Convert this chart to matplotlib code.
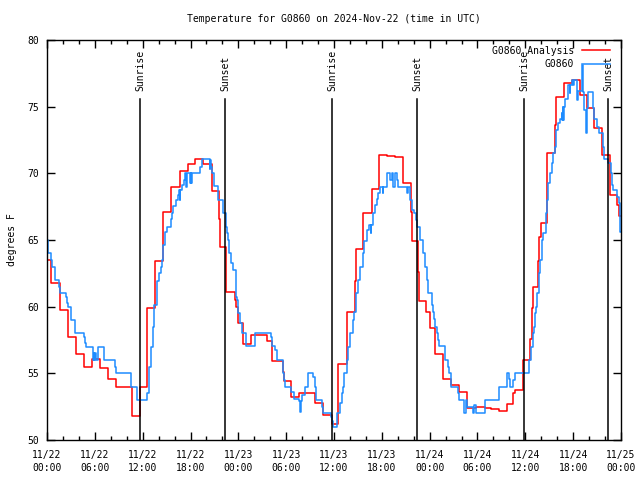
import numpy as np
import matplotlib
matplotlib.use("Agg")
import matplotlib.pyplot as plt

# hours after 2024-11-22 00:00 UTC, step changes
red_hours = [0, 0.55, 1.6, 2.63, 3.65, 4.6, 5.6, 6.6, 7.6, 8.6, 10.6, 11.65,
             12.5, 12.6, 13.55, 13.6, 14.6, 15.6, 16.65, 17.65, 18.6, 19.6,
             20.65, 21.6, 21.65, 22.45, 23.6, 23.75, 24.0, 24.6, 25.6, 27.65,
             28.2, 29.55, 29.7, 30.6, 31.6, 33.65, 34.65, 35.7,
             36.45, 36.55, 37.6, 37.68, 38.65, 38.72, 39.7, 40.73, 41.7, 42.7,
             43.65, 44.6, 44.7, 45.66, 45.74, 46.5, 46.7, 47.6, 48.0, 48.7,
             49.7, 50.7, 51.65, 52.65, 53.8, 55.0, 55.7, 56.7, 57.7, 58.5,
             58.75, 59.65, 60.6, 60.8, 61.0, 61.65, 61.75, 61.95, 62.7, 63.7,
             63.85, 64.8, 64.85, 65.8, 66.8, 67.7, 68.6, 69.65, 70.6, 71.45,
             71.7]
red_temps = [63.5, 61.75, 59.75, 57.7, 56.45, 55.5, 56.1, 55.4, 54.6, 54.0, 51.8, 53.95,
             56.75, 59.9, 61.6, 63.4, 67.1, 69.0, 70.15, 70.7, 71.1, 70.7,
             68.7, 66.6, 64.45, 61.1, 60.5, 60.0, 58.8, 57.2, 57.9, 57.4,
             55.9, 55.1, 54.4, 53.2, 53.5, 52.75, 51.9, 51.2,
             52.0, 55.7, 57.6, 59.6, 61.9, 64.3, 67.05, 68.8, 71.4, 71.3,
             71.2, 70.25, 69.3, 67.1, 64.95, 62.6, 60.4, 59.6, 58.4, 56.45,
             54.55, 54.1, 53.6, 52.4, 52.5, 52.4, 52.35, 52.2, 52.7, 53.5,
             53.75, 56.0, 57.6, 59.9, 61.45, 63.4, 65.2, 66.25, 71.55, 73.6,
             75.7, 76.1, 76.75, 77.0, 75.9, 74.9, 73.4, 71.4, 68.4, 67.6,
             66.8]

blue_hours = [0, 0.13, 0.54, 0.67, 0.96, 1.5, 1.63, 2.34, 2.47, 2.6, 2.97, 3.47,
              3.51, 4.64, 4.72, 4.85, 5.81, 5.9, 5.95, 6.0, 6.1, 6.4, 7.15, 8.57,
              8.7, 10.5, 10.58, 11.33, 12.6, 12.8, 13.05, 13.25, 13.45, 13.75,
              14.0, 14.3, 14.45, 14.6, 14.8, 15.0, 15.5, 15.65, 15.85, 16.2,
              16.45, 16.6, 16.65, 16.7, 16.9, 17.2, 17.3, 17.45, 17.5, 17.95,
              18.0, 18.1, 18.15, 19.2, 19.4, 20.4, 20.5, 20.55, 20.65, 20.95,
              21.5, 22.05, 22.45, 22.55, 22.75, 22.85, 23.05, 23.3, 23.7, 23.8,
              24.0, 24.2, 24.4, 24.95, 26.1, 28.1, 28.2, 28.65, 28.8, 29.55,
              29.75, 29.9, 30.6, 31.0, 31.55, 31.7, 31.8, 31.95, 32.3, 32.7,
              33.4, 33.65, 33.75, 34.5, 34.65, 35.6, 35.75, 35.9, 36.4, 36.75,
              36.95, 37.15, 37.25, 37.6, 37.8, 38.0, 38.35, 38.5, 38.75, 39.05,
              39.25, 39.6, 39.75, 40.2, 40.45, 40.6, 40.7, 40.95, 41.15, 41.35,
              41.55, 41.75, 42.1, 42.2, 42.6, 43.0, 43.25, 43.45, 43.65, 43.85,
              44.05, 45.2, 45.3, 45.55, 45.75, 46.05, 46.3, 46.45, 46.8, 47.15,
              47.4, 47.65, 47.85, 48.3, 48.45, 48.6, 48.7, 48.9, 49.1, 49.2,
              49.95, 50.25, 50.45, 50.7, 51.5, 51.65, 52.35, 52.5, 52.65, 53.4,
              53.6, 53.8, 55.0, 56.65, 57.65, 57.9, 58.1, 58.5, 58.75, 60.4,
              60.65, 60.9, 61.1, 61.2, 61.35, 61.5, 61.75, 61.9, 62.05, 62.25,
              62.6, 62.75, 62.9, 63.1, 63.3, 63.5, 63.7, 63.9, 64.15, 64.3,
              64.55, 64.65, 64.7, 64.75, 64.8, 65.0, 65.4, 65.55, 65.6, 65.8,
              66.0, 66.1, 66.45, 66.5, 66.65, 67.05, 67.2, 67.35, 67.55, 67.7,
              67.9, 68.45, 68.6, 68.95, 69.3, 69.7, 69.85, 70.4, 70.7, 70.85,
              71.05, 71.45, 71.75, 71.9]
blue_temps = [65.0, 64.0, 63.5, 63.0, 62.0, 61.5, 61.0, 60.75, 60.3, 60.0, 59.0, 58.5,
              58.0, 57.75, 57.3, 57.0, 56.0, 56.5, 56.0, 56.5, 56.0, 57.0, 56.0, 55.5,
              55.0, 54.5, 54.0, 53.0, 53.5, 55.5, 57.0, 58.5, 60.1, 61.95,
              62.5, 63.0, 63.5, 64.6, 65.6, 66.0, 66.55, 67.05, 67.55, 68.0,
              68.4, 68.75, 68.0, 68.75, 69.1, 69.5, 70.05, 69.0, 70.05, 69.3,
              70.05, 69.3, 70.05, 70.5, 71.05, 70.3, 71.0, 70.5, 70.0, 69.05,
              68.0, 67.0, 66.0, 65.5, 65.0, 64.0, 63.25, 62.75, 60.75, 60.5,
              59.5, 58.75, 58.0, 57.05, 58.0, 57.7, 57.05, 56.75, 56.0, 55.0,
              54.5, 53.95, 53.6, 53.1, 52.95, 52.1, 52.95, 53.4, 54.0, 55.0,
              54.75, 54.0, 53.0, 52.5, 52.0, 51.75, 51.4, 51.0, 52.0, 52.75,
              53.5, 54.0, 55.0, 56.0, 57.0, 58.0, 59.0, 59.6, 61.0, 62.0,
              63.0, 64.0, 64.9, 65.75, 66.1, 65.5, 66.1, 67.0, 67.6, 68.05,
              68.5, 69.0, 68.5, 69.0, 70.0, 69.5, 70.0, 69.0, 70.0, 69.5,
              69.0, 68.5, 69.0, 68.0, 67.25, 67.0, 66.5, 65.95, 65.0, 64.0,
              63.0, 62.0, 61.0, 60.1, 59.6, 59.1, 58.5, 58.0, 57.5, 57.05,
              56.0, 55.45, 55.0, 54.0, 53.5, 53.0, 52.0, 53.0, 52.5, 52.0,
              52.6, 52.0, 53.0, 53.95, 55.0, 54.55, 53.95, 54.5, 55.0, 56.0,
              57.0, 58.0, 58.5, 59.5, 60.0, 61.0, 62.5, 63.5, 65.0, 65.5,
              67.0, 68.0, 69.25, 70.0, 70.75, 71.5, 72.0, 73.25, 73.75, 74.1,
              74.5, 74.0, 75.0, 74.0, 75.0, 75.6, 76.6, 76.0, 76.6, 77.0,
              76.6, 77.0, 76.1, 75.5, 76.2, 78.1, 76.1, 74.75, 73.0, 74.9,
              76.1, 74.9, 74.1, 73.5, 73.0, 72.0, 71.1, 70.75, 70.0, 69.1,
              68.75, 68.25, 67.75, 65.6]

sunrise_hours = [11.67, 35.77, 59.85]
sunset_hours = [22.33, 46.45, 70.4]

xtick_labels = ['11/22\n00:00', '11/22\n06:00', '11/22\n12:00', '11/22\n18:00',
                '11/23\n00:00', '11/23\n06:00', '11/23\n12:00', '11/23\n18:00',
                '11/24\n00:00', '11/24\n06:00', '11/24\n12:00', '11/24\n18:00',
                '11/25\n00:00']

plt.rcParams['font.family'] = ['DejaVu Sans Mono']
plt.rcParams['font.size'] = 7

fig = plt.figure(figsize=(6.4, 4.8), dpi=100)
ax = fig.add_axes([47 / 640, 40 / 480, 574 / 640, 400 / 480])

# extend last step to the end of the window
rx = np.append(red_hours, 72)
ry = np.append(red_temps, red_temps[-1])
bx = np.append(blue_hours, 72)
by = np.append(blue_temps, blue_temps[-1])

ax.step(rx, ry, where='post', color='#ff0000', lw=1.1, label='G0860 Analysis')
ax.step(bx, by, where='post', color='#1e8cff', lw=1.1, label='G0860')

for h in sunrise_hours:
    ax.plot([h, h], [50, 75.6], color='black', lw=1.1)
    ax.text(h, 76.2, 'Sunrise', rotation=90, ha='center', va='bottom')
for h in sunset_hours:
    ax.plot([h, h], [50, 75.6], color='black', lw=1.1)
    ax.text(h, 76.2, 'Sunset', rotation=90, ha='center', va='bottom')

ax.set_xlim(0, 72)
ax.set_ylim(50, 80)
ax.set_xticks(np.arange(0, 73, 6))
ax.set_xticklabels(xtick_labels, linespacing=1.35)
ax.set_xticks(np.arange(0, 73, 2), minor=True)
ax.set_yticks(np.arange(50, 81, 5))
ax.tick_params(which='both', direction='in', top=True, right=True, color='black')
ax.tick_params(which='major', length=6, width=1)
ax.tick_params(axis='x', which='major', pad=7)
ax.tick_params(axis='y', which='major', pad=6)
ax.tick_params(which='minor', length=3, width=1)
for s in ax.spines.values():
    s.set_linewidth(1)

ax.set_ylabel('degrees F', labelpad=7)
ax.set_title('Temperature for G0860 on 2024-Nov-22 (time in UTC)', fontsize=7, pad=13)

ax.legend(loc='upper right', bbox_to_anchor=(1 - 5 / 574, 1), frameon=False,
          markerfirst=False, handlelength=2.9, borderaxespad=0.2,
          labelspacing=0.35, handletextpad=0.8)

fig.savefig('out.png', dpi=100)
